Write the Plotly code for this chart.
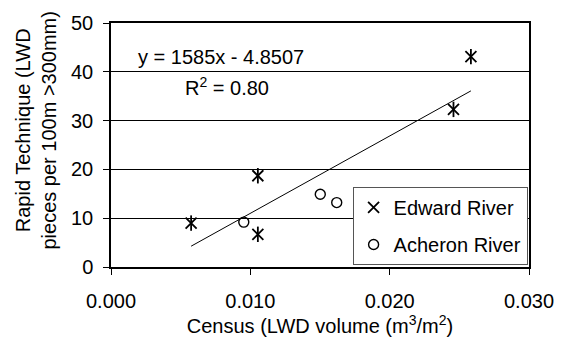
import plotly.graph_objects as go

edward_x = [0.00575, 0.01054, 0.01054, 0.02458, 0.02583]
edward_y = [9.0, 18.7, 6.7, 32.3, 43.1]
acheron_x = [0.00953, 0.01502, 0.0162]
acheron_y = [9.2, 14.9, 13.2]
slope = 1585
intercept = -4.8507
trend_x = [min(edward_x + acheron_x), max(edward_x + acheron_x)]
trend_y = [slope * v + intercept for v in trend_x]
x_ticks = [0.0, 0.01, 0.02, 0.03]
x_ticklabels = ["0.000", "0.010", "0.020", "0.030"]
y_ticks = [0, 10, 20, 30, 40, 50]

FS = 20
font = dict(family="Liberation Sans, Arial, sans-serif", size=FS, color="black")

fig = go.Figure()
fig.add_trace(go.Scatter(x=trend_x, y=trend_y, mode="lines",
                         line=dict(color="black", width=1), showlegend=False,
                         hoverinfo="skip"))
fig.add_trace(go.Scatter(x=edward_x, y=edward_y, mode="markers", name="Edward River",
                         legendgroup="e",
                         marker=dict(symbol="x-thin-open", size=11, color="black",
                                     line=dict(color="black", width=1.8))))
fig.add_trace(go.Scatter(x=edward_x, y=edward_y, mode="markers", showlegend=False,
                         legendgroup="e",
                         marker=dict(symbol="line-ns-open", size=11, color="black",
                                     line=dict(color="black", width=1.8))))
fig.add_trace(go.Scatter(x=acheron_x, y=acheron_y, mode="markers", name="Acheron River",
                         legendgroup="a",
                         marker=dict(symbol="circle-open", size=10, color="black",
                                     line=dict(color="black", width=1.4))))

fig.update_layout(
    width=566, height=338,
    margin=dict(l=111, r=31, t=20, b=68),
    paper_bgcolor="white", plot_bgcolor="white",
    font=font,
    legend=dict(x=0.578, y=0.328, xanchor="left", yanchor="top",
                bordercolor="#555", borderwidth=1, bgcolor="white",
                font=dict(size=FS), itemwidth=30, tracegroupgap=8),
    xaxis=dict(range=[0, 0.03], tickvals=x_ticks, ticktext=x_ticklabels,
               showgrid=False, zeroline=False, showline=True, mirror=True,
               linecolor="black", linewidth=1.5, ticks="outside", ticklen=6,
               tickcolor="black", ticklabelstandoff=9,
               title=dict(text="Census (LWD volume (m<sup>3</sup>/m<sup>2</sup>)",
                          font=dict(size=FS), standoff=0)),
    yaxis=dict(range=[0, 50], tickvals=y_ticks, showgrid=True, gridcolor="black",
               gridwidth=1, zeroline=False, showline=True, mirror=True,
               linecolor="black", linewidth=1.5, ticks="outside", ticklen=6,
               tickcolor="black", ticklabelstandoff=6),
)

fig.add_annotation(xref="paper", yref="paper", x=-0.179, y=0.56, xanchor="center",
                   yanchor="middle", showarrow=False, textangle=-90,
                   text="Rapid Technique (LWD<br>pieces per 100m >300mm)",
                   font=dict(size=FS))
fig.add_annotation(xref="paper", yref="paper", x=0.06, y=0.86, xanchor="left",
                   yanchor="middle", showarrow=False,
                   text=f"y = {slope}x - {abs(intercept)}", font=dict(size=FS),
                   bgcolor="white")
fig.add_annotation(xref="paper", yref="paper", x=0.173, y=0.74, xanchor="left",
                   yanchor="middle", showarrow=False,
                   text="R<sup>2</sup> = 0.80", font=dict(size=FS))

fig.write_html("out.html")
